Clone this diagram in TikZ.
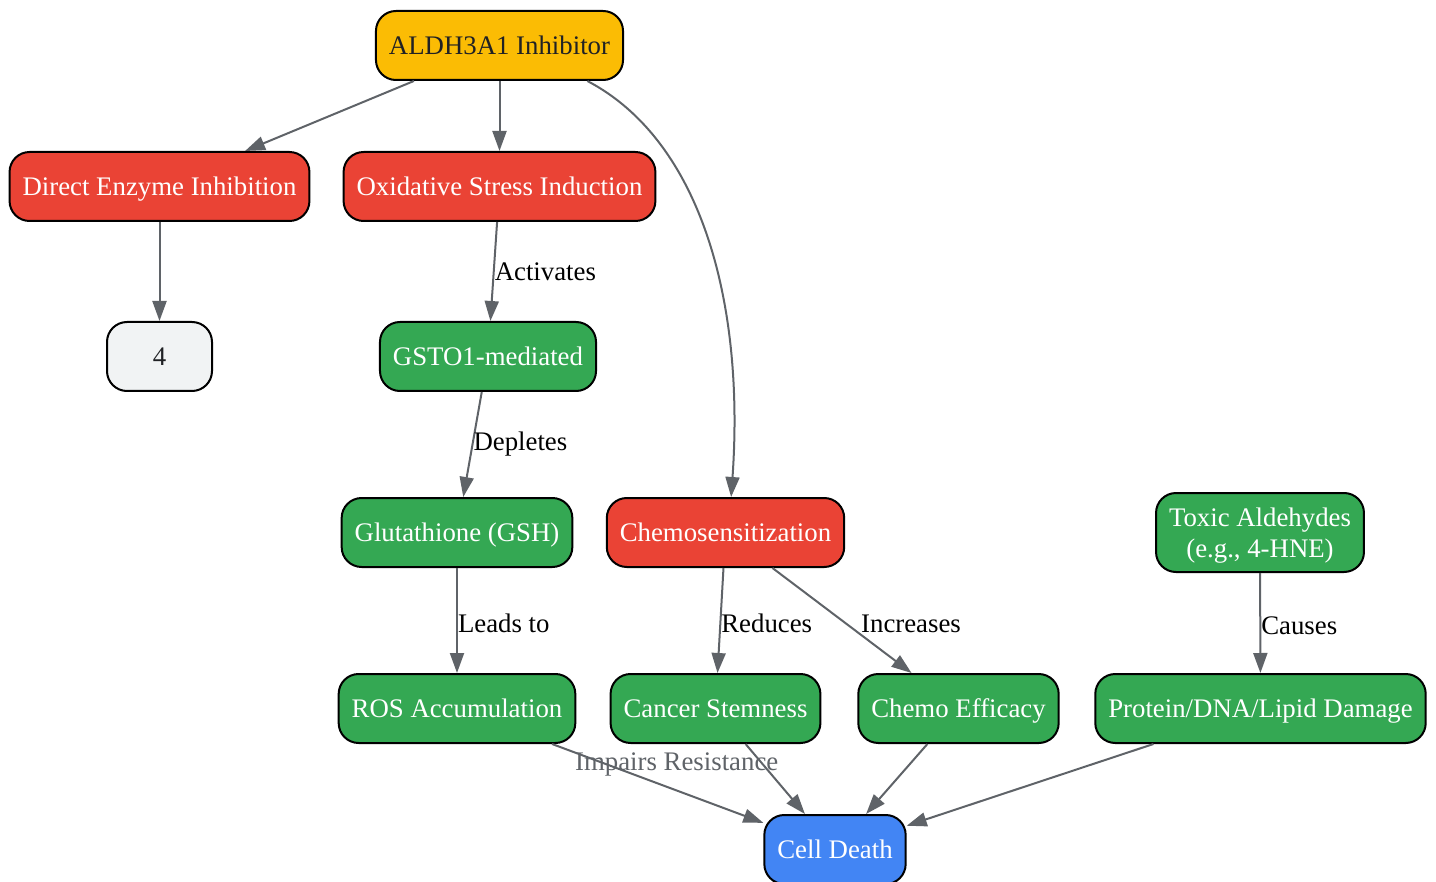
\documentclass[tikz,border=0pt]{standalone}
\usepackage{fontspec}
\setmainfont{Liberation Serif}
\usepackage{tikz}
\usetikzlibrary{shapes,arrows.meta,positioning}
\definecolor{gyellow}{HTML}{FBBC04}
\definecolor{gred}{HTML}{EA4335}
\definecolor{ggreen}{HTML}{34A853}
\definecolor{gblue}{HTML}{4285F4}
\definecolor{glight}{HTML}{F1F3F4}
\definecolor{gedge}{HTML}{5F6368}
\definecolor{gtext}{HTML}{202124}
\tikzstyle{box} = [draw=black, line width=1pt, rounded corners=10pt, minimum height=34.5pt, inner xsep=6.5pt, text height=10pt, text depth=1pt, font=\fontsize{13.4}{15.5}\selectfont, align=center]
\tikzstyle{ynode} = [box, fill=gyellow, text=gtext]
\tikzstyle{rnode} = [box, fill=gred, text=white]
\tikzstyle{gnode} = [box, fill=ggreen, text=white]
\tikzstyle{bnode} = [box, fill=gblue, text=white]
\tikzstyle{lnode} = [box, fill=glight, text=gtext, minimum width=52.5pt]
\tikzstyle{line} = [draw=gedge, line width=1pt, -{Triangle[length=10pt,width=7pt]}]
\tikzstyle{elabel} = [font=\fontsize{13.4}{15.5}\selectfont, text=black, inner sep=0pt, right]

\begin{document}
\begin{tikzpicture}[x=0.5pt, y=-0.5pt]
				\useasboundingbox (0,0) rectangle (1436,882);

				\node [ynode] (top) at (499.5,45.5) {ALDH3A1 Inhibitor};
				\node [rnode] (direct) at (159.5,186.5) {Direct Enzyme Inhibition};
				\node [rnode] (oxid) at (499.5,186.5) {Oxidative Stress Induction};
				\node [lnode] (four) at (159.5,356.5) {4};
				\node [gnode] (gsto) at (488,356.5) {GSTO1-mediated};
				\node [gnode] (gsh) at (457,532.5) {Glutathione (GSH)};
				\node [rnode] (chemo) at (725.5,532.5) {Chemosensitization};
				\node [gnode, text height=, text depth=0pt, minimum height=39.5pt] (toxic) at (1260,532.5) {Toxic Aldehydes\\(e.g., 4-HNE)};
				\node [gnode] (ros) at (457,708.5) {ROS Accumulation};
				\node [gnode] (stem) at (715.5,708.5) {Cancer Stemness};
				\node [gnode] (eff) at (958.5,708.5) {Chemo Efficacy};
				\node [gnode] (damage) at (1260.5,708.5) {Protein/DNA/Lipid Damage};
				\node [bnode] (death) at (835,849.5) {Cell Death};

				\path [line] (top) -- (direct);
				\path [line] (top) -- (oxid);
				\path [line] (top.-22) .. controls (700,140) and (745,300) .. (chemo.81);
				\path [line] (direct) -- (four);
				\path [line] (oxid) -- node [elabel, midway] {Activates} (gsto);
				\path [line] (gsto) -- node [elabel, midway] {Depletes} (gsh);
				\path [line] (gsh) -- node [elabel, pos=0.53] {Leads to} (ros);
				\path [line] (chemo) -- node [elabel, pos=0.53] {Reduces} (stem);
				\path [line] (chemo) -- node [elabel, pos=0.53, xshift=7pt] {Increases} (eff);
				\path [line] (toxic) -- node [elabel, pos=0.53] {Causes} (damage);
				\path [line] (ros) -- node [elabel, pos=0.59, anchor=center, yshift=13pt, text=gedge] {Impairs Resistance} (death);
				\path [line] (stem) -- (death);
				\path [line] (eff) -- (death);
				\path [line] (damage) -- (death);
			\end{tikzpicture}
\end{document}
